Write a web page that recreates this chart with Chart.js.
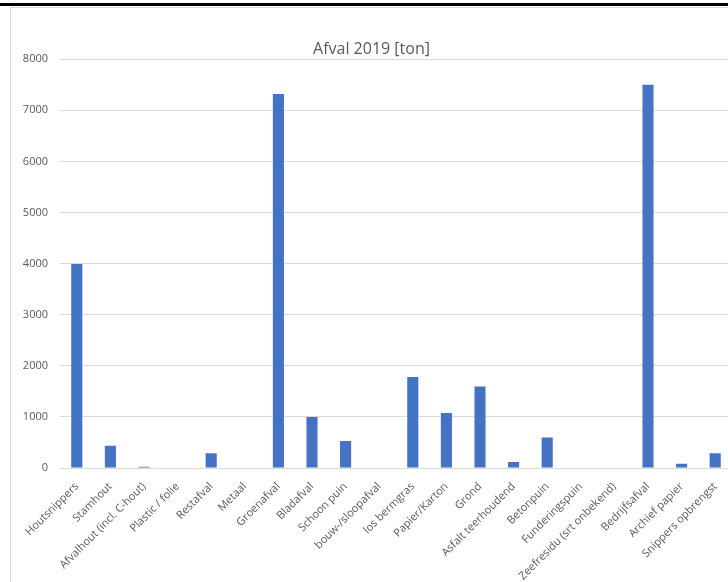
<!DOCTYPE html>
<html>
<head>
<meta charset="utf-8">
<script src="https://cdn.jsdelivr.net/npm/chart.js@4"></script>
<style>
  html, body { margin: 0; padding: 0; width: 728px; height: 582px; overflow: hidden; background: #fff; }
  #topline { position: absolute; left: 0; top: 3px; width: 728px; height: 3px; background: #000; }
  #frame { position: absolute; left: 10px; top: 7px; width: 740px; height: 580px;
           border-left: 1px solid #d9d9d9; border-top: 1px solid #d9d9d9; }
  #wrap { position: absolute; left: 11px; top: 8px; width: 721px; height: 574px; }
</style>
</head>
<body>
<div id="topline"></div>
<div id="frame"></div>
<div id="wrap"><canvas id="afvalChart"></canvas></div>
<script>
// Categorieen en hoeveelheden (ton)
const categorieen = [
  "Houtsnippers", "Stamhout", "Afvalhout (incl. C-hout)", "Plastic / folie",
  "Restafval", "Metaal", "Groenafval", "Bladafval", "Schoon puin",
  "bouw-/sloopafval", "los bermgras", "Papier/Karton", "Grond",
  "Asfalt teerhoudend", "Betonpuin", "Funderingspuin",
  "Zeefresidu (srt onbekend)", "Bedrijfsafval", "Archief papier",
  "Snippers opbrengst"
];
const afval2019 = [
  3990, 435, 25, 0,
  290, 0, 7320, 1000, 530,
  0, 1780, 1075, 1595,
  117, 595, 0,
  0, 7500, 85,
  290
];
const yTicks = [0, 1000, 2000, 3000, 4000, 5000, 6000, 7000, 8000];

const grijs = "#595959";
const ctx = document.getElementById("afvalChart").getContext("2d");

new Chart(ctx, {
  type: "bar",
  data: {
    labels: categorieen,
    datasets: [{
      label: "Afval 2019 [ton]",
      data: afval2019,
      backgroundColor: "#4472c4",
      borderWidth: 0,
      barPercentage: 0.33,
      categoryPercentage: 1
    }]
  },
  options: {
    responsive: true,
    maintainAspectRatio: false,
    animation: false,
    devicePixelRatio: 1,
    layout: { padding: 0 },
    plugins: {
      legend: { display: false },
      tooltip: { enabled: false },
      title: {
        display: true,
        text: "Afval 2019 [ton]",
        color: grijs,
        font: { family: "'Open Sans', sans-serif", size: 16, weight: "normal" },
        padding: { top: 32, bottom: 0 }
      }
    },
    scales: {
      y: {
        min: 0,
        max: 8000,
        afterBuildTicks: (s) => { s.ticks = yTicks.map(v => ({ value: v })); },
        afterFit: (s) => { s.width = 49; },
        grid: { color: "#d9d9d9", drawTicks: false },
        border: { display: false },
        ticks: {
          color: grijs,
          padding: 12,
          callback: (v) => String(v),
          font: { family: "'Open Sans', sans-serif", size: 11 }
        }
      },
      x: {
        afterFit: (s) => { s.height = 114; },
        grid: { display: false },
        border: { color: "#d9d9d9" },
        ticks: {
          color: grijs,
          minRotation: 45,
          maxRotation: 45,
          autoSkip: false,
          padding: 4,
          font: { family: "'Open Sans', sans-serif", size: 11 }
        }
      }
    }
  }
});
</script>
</body>
</html>
